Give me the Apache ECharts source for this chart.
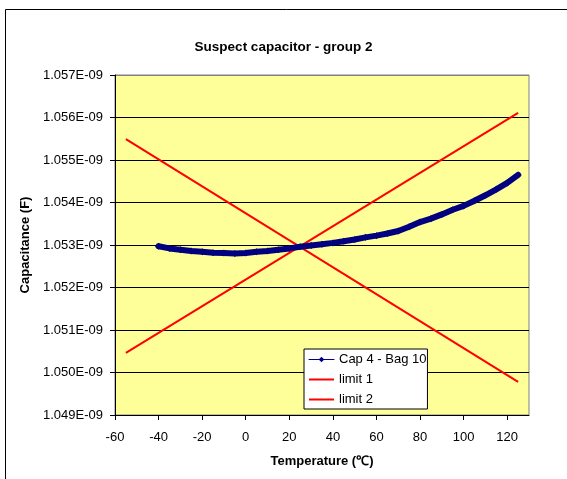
<!DOCTYPE html>
<html>
<head>
<meta charset="utf-8">
<script src="https://cdn.jsdelivr.net/npm/echarts@6/dist/echarts.min.js"></script>
<style>
html,body{margin:0;padding:0;background:#fff;}
#chart{width:567px;height:479px;}
</style>
</head>
<body>
<div id="chart"></div>
<script>
// Capacitance values are in units of 1E-09 F (nF)
var temps = [-40,-35,-30,-25,-20,-15,-10,-5,0,5,10,15,20,25,30,35,40,45,50,55,60,65,70,75,80,85,90,95,100,105,110,115,120,125];
var cap4bag10 = [1.05297,1.05292,1.05289,1.05286,1.05284,1.05282,1.05281,1.05280,1.05281,1.05284,1.05286,1.05289,1.05292,1.05296,1.05299,1.05302,1.05305,1.05309,1.05313,1.05318,1.05322,1.05327,1.05333,1.05343,1.05354,1.05362,1.05372,1.05383,1.05392,1.05404,1.05417,1.05431,1.05446,1.05465];
var limitTemps = [-55, 125];
var limit1 = [1.05046, 1.05611];
var limit2 = [1.05549, 1.04978];
var xTicks = [-60,-40,-20,0,20,40,60,80,100,120];
var yTicks = [1.049,1.050,1.051,1.052,1.053,1.054,1.055,1.056,1.057];

function pairs(xs, ys){ return xs.map(function(x,i){ return [x, ys[i]]; }); }

var FONT = 'Liberation Sans, Arial, sans-serif';
var chart = echarts.init(document.getElementById('chart'), null, {renderer:'canvas'});
chart.setOption({
  animation:false,
  backgroundColor:'#ffffff',
  textStyle:{fontFamily:FONT},
  title:{
    text:'Suspect capacitor - group 2',
    left:'center', top:35,
    textStyle:{fontFamily:FONT, fontSize:13.5, fontWeight:'bold', color:'#000'}
  },
  grid:{
    left:115, top:75, right:38, bottom:64,
    show:true, backgroundColor:'#FFFF99', borderColor:'#808080', borderWidth:1
  },
  xAxis:{
    type:'value', min:-60, max:130, interval:20,
    name:'Temperature (℃)', nameLocation:'middle', nameGap:40,
    nameTextStyle:{fontFamily:FONT, fontSize:13, fontWeight:'bold', color:'#000'},
    axisLine:{show:true, onZero:false, lineStyle:{color:'#000', width:1}},
    axisTick:{show:true, length:5, customValues:xTicks, lineStyle:{color:'#000'}},
    axisLabel:{customValues:xTicks, margin:16, fontSize:13, color:'#000', fontFamily:FONT},
    splitLine:{show:false}
  },
  yAxis:{
    type:'value', min:1.049, max:1.057, interval:0.001,
    name:'Capacitance (F)', nameLocation:'middle', nameGap:80,
    nameTextStyle:{fontFamily:FONT, fontSize:13, fontWeight:'bold', color:'#000'},
    axisLine:{show:true, onZero:false, lineStyle:{color:'#000', width:1}},
    axisTick:{show:true, length:5, lineStyle:{color:'#000'}},
    axisLabel:{margin:12, fontSize:13, color:'#000', fontFamily:FONT,
      formatter:function(v){ return v.toFixed(3) + 'E-09'; }},
    splitLine:{show:true, lineStyle:{color:['#000','#000','#000','#000','#000','#000','#000','#000','#808080'], width:1}}
  },
  legend:{
    orient:'vertical', left:304, top:349,
    backgroundColor:'#ffffff', borderColor:'#000', borderWidth:1,
    padding:[4,1,3,4], itemGap:7, itemWidth:25, itemHeight:7,
    textStyle:{fontFamily:FONT, fontSize:13, color:'#000'},
    data:[
      {name:'Cap 4 - Bag 10', itemStyle:{color:'#000080'}, lineStyle:{width:1, color:'#000080'}},
      {name:'limit 1', itemStyle:{opacity:0}, lineStyle:{width:2, color:'#FF0000'}},
      {name:'limit 2', itemStyle:{opacity:0}, lineStyle:{width:2, color:'#FF0000'}}
    ]
  },
  series:[
    {
      name:'limit 1', type:'line', data:pairs(limitTemps, limit1),
      showSymbol:false, symbol:'none', color:'#FF0000',
      lineStyle:{color:'#FF0000', width:2}, z:2
    },
    {
      name:'limit 2', type:'line', data:pairs(limitTemps, limit2),
      showSymbol:false, symbol:'none', color:'#FF0000',
      lineStyle:{color:'#FF0000', width:2}, z:2
    },
    {
      name:'Cap 4 - Bag 10', type:'line', data:pairs(temps, cap4bag10),
      symbol:'diamond', symbolSize:7, showSymbol:true, color:'#000080',
      itemStyle:{color:'#000080'},
      lineStyle:{color:'#000080', width:6, cap:'round', join:'round'}, z:3
    }
  ],
  graphic:[
    {type:'line', shape:{x1:5.5, y1:9.5, x2:567, y2:9.5}, style:{stroke:'#000', lineWidth:1}, silent:true},
    {type:'line', shape:{x1:5.5, y1:9.5, x2:5.5, y2:479}, style:{stroke:'#000', lineWidth:1}, silent:true}
  ]
});
</script>
</body>
</html>
